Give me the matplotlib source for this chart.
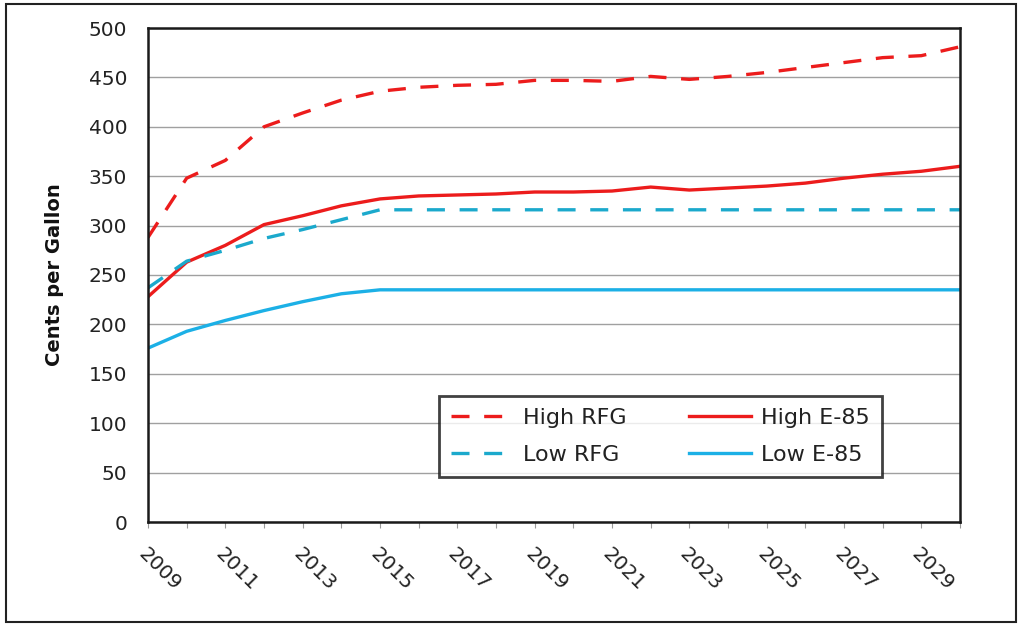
import matplotlib
matplotlib.use("Agg")
import matplotlib.pyplot as plt
from matplotlib.patches import Rectangle

years = list(range(2009, 2031))
high_rfg = [288, 348, 366, 400, 414, 427, 436, 440, 442, 443, 447, 447,
            446, 451, 448, 451, 455, 460, 465, 470, 472, 481]
high_e85 = [228, 263, 280, 301, 310, 320, 327, 330, 331, 332, 334, 334,
            335, 339, 336, 338, 340, 343, 348, 352, 355, 360]
low_rfg = [237, 264, 275, 287, 296, 306, 316, 316, 316, 316, 316, 316,
           316, 316, 316, 316, 316, 316, 316, 316, 316, 316]
low_e85 = [176, 193, 204, 214, 223, 231, 235, 235, 235, 235, 235, 235,
           235, 235, 235, 235, 235, 235, 235, 235, 235, 235]
tick_years = list(range(2009, 2030, 2))
y_ticks = list(range(0, 501, 50))

plt.rcParams['font.family'] = ['DejaVu Sans']

fig = plt.figure(figsize=(10.21, 6.26), dpi=100)
ax = fig.add_axes([148 / 1021, 1 - 522 / 626, 812 / 1021, 494 / 626])

red = '#ec1c1c'
teal = '#1ba9cc'
blue = '#1cb0e6'
lw = 2.4
dash = (5.4, 4.4)
l1, = ax.plot(years, high_rfg, color=red, lw=lw, dashes=dash, label='High RFG')
l2, = ax.plot(years, high_e85, color=red, lw=lw, label='High E-85')
l3, = ax.plot(years, low_rfg, color=teal, lw=lw, dashes=dash, label='Low RFG')
l4, = ax.plot(years, low_e85, color=blue, lw=lw, label='Low E-85')

ax.set_xlim(2009, 2030)
ax.set_ylim(0, 500)
ax.set_yticks(y_ticks)
ax.set_xticks(years, minor=True)
ax.set_xticks(tick_years)
ax.set_xticklabels([str(y) for y in tick_years], rotation=-45, ha='left',
                   va='top', rotation_mode='anchor', fontsize=14.5,
                   color='#222222')
ax.tick_params(axis='y', labelsize=14.5, labelcolor='#222222', length=0, pad=15)
ax.tick_params(axis='x', which='both', length=4, width=0.8, color='#999999', pad=12)
ax.yaxis.grid(True, color='#a0a0a0', lw=1.0)
ax.set_axisbelow(True)
for s in ax.spines.values():
    s.set_linewidth(1.8)
    s.set_color('#1a1a1a')

ax.set_ylabel('Cents per Gallon', fontsize=14, fontweight='bold', color='#111111')
ax.yaxis.set_label_coords(-0.103, 0.5)

leg = ax.legend(handles=[l1, l3, l2, l4], ncol=2, loc='lower left',
                bbox_to_anchor=(0.3584, 0.0911, 0.5456, 0.182),
                mode='expand', fontsize=16, frameon=True, fancybox=False,
                handlelength=2.8, handletextpad=0.45, columnspacing=1.6,
                labelspacing=0.75, borderpad=0.55, borderaxespad=0)
leg.get_frame().set_edgecolor('#111111')
leg.get_frame().set_linewidth(2.0)
for t in leg.get_texts():
    t.set_color('#222222')

fig.patches.append(Rectangle((6 / 1021, 4 / 626), 1010 / 1021, 618 / 626,
                             transform=fig.transFigure, fill=False,
                             edgecolor='#222222', lw=1.5))

fig.savefig('out.png', dpi=100)
